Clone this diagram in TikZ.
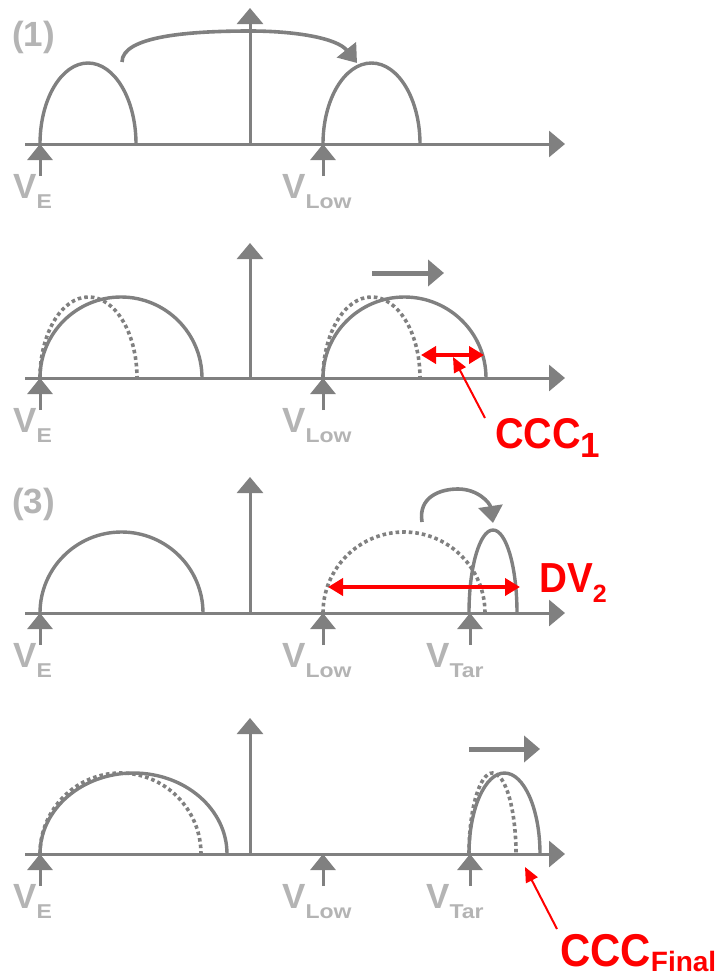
\documentclass[tikz,border=0pt]{standalone}
\usepackage{fontspec}
\usepackage{graphicx}
\setmainfont{Liberation Sans}
\usetikzlibrary{arrows.meta}
\definecolor{lgray}{HTML}{808080}
\definecolor{tgray}{HTML}{B4B4B4}
\definecolor{myred}{HTML}{FF0000}
\newcommand{\vsub}[1]{\raisebox{-10pt}{\fontsize{20}{20}\selectfont\scalebox{1.15}[1]{#1}}}
\tikzset{
  axisline/.style={draw=lgray, line width=3pt, -{Triangle[length=16pt,width=26pt]}},
  curve/.style={draw=lgray, line width=3.4pt},
  dotcurve/.style={draw=lgray, line width=3.6pt, dash pattern=on 3.6pt off 3pt},
  varrow/.style={draw=lgray, line width=3pt, -{Triangle[length=16pt,width=25pt]}},
  movearrow/.style={draw=lgray, line width=5pt, -{Triangle[length=16pt,width=26pt]}},
  bentarrow/.style={draw=lgray, line width=3.6pt, -{Triangle[length=17pt,width=24pt]}},
  redboth/.style={draw=myred, line width=4pt, {Triangle[length=15pt,width=17pt]}-{Triangle[length=15pt,width=17pt]}},
  redpoint/.style={draw=myred, line width=2pt, -{Triangle[length=15pt,width=13pt]}},
  vlabel/.style={inner sep=0pt, anchor=base west, text=tgray, font=\fontsize{35}{35}\selectfont\bfseries},
  redlabel/.style={inner sep=0pt, anchor=base west, text=myred, font=\bfseries},
}
\begin{document}
\begin{tikzpicture}[x=1pt,y=1pt]
\useasboundingbox (0,0) rectangle (723,-975);

% ---------------- Panel 1 ----------------
\coordinate (h1s) at (25,-144); \coordinate (h1e) at (565,-144);
\coordinate (v1s) at (250,-144); \coordinate (v1e) at (250,-8);
\draw[axisline] (h1s) -- (h1e);
\draw[axisline] (v1s) -- (v1e);
\draw[curve] (40,-144) arc[start angle=180,end angle=0,x radius=48pt,y radius=81pt];
\draw[curve] (323,-144) arc[start angle=180,end angle=0,x radius=48.5pt,y radius=81pt];
\coordinate (b1s) at (122,-62); \coordinate (b1e) at (357,-63);
\draw[bentarrow] (b1s) .. controls (122,-36) and (190,-31) .. (250,-31)
  .. controls (295,-31) and (337,-38) .. (b1e);
\coordinate (e1a) at (40,-176); \coordinate (e1b) at (40,-144);
\coordinate (l1a) at (323,-176); \coordinate (l1b) at (323,-144);
\draw[varrow] (e1a) -- (e1b);
\draw[varrow] (l1a) -- (l1b);
\node[vlabel] (p1) at (12,-46) {(1)};
\node[vlabel] (ve1) at (13,-198) {V\vsub{E}};
\node[vlabel] (vl1) at (282,-198) {V\vsub{Low}};

% ---------------- Panel 2 ----------------
\coordinate (h2s) at (25,-378); \coordinate (h2e) at (565,-378);
\coordinate (v2s) at (250,-378); \coordinate (v2e) at (250,-243);
\draw[axisline] (h2s) -- (h2e);
\draw[axisline] (v2s) -- (v2e);
\draw[dotcurve] (40,-378) arc[start angle=180,end angle=0,x radius=48.5pt,y radius=81pt];
\draw[curve] (40,-378) arc[start angle=180,end angle=0,x radius=81pt,y radius=81pt];
\draw[dotcurve] (323,-378) arc[start angle=180,end angle=0,x radius=48.5pt,y radius=81pt];
\draw[curve] (323,-378) arc[start angle=180,end angle=0,x radius=81.5pt,y radius=81pt];
\coordinate (m2s) at (372,-273); \coordinate (m2e) at (444,-273);
\draw[movearrow] (m2s) -- (m2e);
\coordinate (r2s) at (421,-355); \coordinate (r2e) at (484,-355);
\draw[redboth] (r2s) -- (r2e);
\coordinate (q2s) at (485,-418); \coordinate (q2e) at (453,-357);
\draw[redpoint] (q2s) -- (q2e);
\coordinate (e2a) at (40,-410); \coordinate (e2b) at (40,-378);
\coordinate (l2a) at (323,-410); \coordinate (l2b) at (323,-378);
\draw[varrow] (e2a) -- (e2b);
\draw[varrow] (l2a) -- (l2b);
\node[vlabel] (ve2) at (13,-432) {V\vsub{E}};
\node[vlabel] (vl2) at (282,-432) {V\vsub{Low}};
\node[redlabel] (ccc1) at (495,-448) {\fontsize{43}{43}\selectfont\scalebox{0.92}[1]{CCC}\raisebox{-9pt}{\fontsize{35}{35}\selectfont 1}};

% ---------------- Panel 3 ----------------
\coordinate (h3s) at (25,-613); \coordinate (h3e) at (565,-613);
\coordinate (v3s) at (250,-613); \coordinate (v3e) at (250,-477);
\draw[axisline] (h3s) -- (h3e);
\draw[axisline] (v3s) -- (v3e);
\draw[curve] (40,-613) arc[start angle=180,end angle=0,x radius=81.5pt,y radius=81pt];
\draw[dotcurve] (323,-613) arc[start angle=180,end angle=0,x radius=81pt,y radius=81pt];
\draw[curve] (469,-613) arc[start angle=180,end angle=0,x radius=24pt,y radius=83pt];
\coordinate (b3s) at (422,-522); \coordinate (b3e) at (493,-523);
\draw[bentarrow] (b3s) .. controls (418,-497) and (440,-489) .. (458,-489)
  .. controls (478,-489) and (490,-503) .. (b3e);
\coordinate (r3s) at (328,-587); \coordinate (r3e) at (520,-587);
\draw[redboth] (r3s) -- (r3e);
\coordinate (e3a) at (40,-645); \coordinate (e3b) at (40,-613);
\coordinate (l3a) at (323,-645); \coordinate (l3b) at (323,-613);
\coordinate (t3a) at (470,-645); \coordinate (t3b) at (470,-613);
\draw[varrow] (e3a) -- (e3b);
\draw[varrow] (l3a) -- (l3b);
\draw[varrow] (t3a) -- (t3b);
\node[vlabel] (p3) at (12,-513) {(3)};
\node[vlabel] (ve3) at (13,-667) {V\vsub{E}};
\node[vlabel] (vl3) at (282,-667) {V\vsub{Low}};
\node[vlabel] (vt3) at (426,-667) {V\vsub{Tar}};
\node[redlabel] (dv2) at (539,-592) {\fontsize{42}{42}\selectfont\scalebox{0.92}[1]{DV}\raisebox{-10pt}{\fontsize{25}{25}\selectfont 2}};

% ---------------- Panel 4 ----------------
\coordinate (h4s) at (25,-854); \coordinate (h4e) at (565,-854);
\coordinate (v4s) at (250,-854); \coordinate (v4e) at (250,-718);
\draw[axisline] (h4s) -- (h4e);
\draw[axisline] (v4s) -- (v4e);
\draw[dotcurve] (40,-854) arc[start angle=180,end angle=0,x radius=80.5pt,y radius=81pt];
\draw[curve] (40,-854) arc[start angle=180,end angle=0,x radius=93.5pt,y radius=81pt];
\draw[dotcurve] (469,-854) arc[start angle=180,end angle=0,x radius=23.5pt,y radius=81pt];
\draw[curve] (469,-854) arc[start angle=180,end angle=0,x radius=35.5pt,y radius=81pt];
\coordinate (m4s) at (469,-749); \coordinate (m4e) at (540,-749);
\draw[movearrow] (m4s) -- (m4e);
\coordinate (q4s) at (557,-929); \coordinate (q4e) at (525,-867);
\draw[redpoint] (q4s) -- (q4e);
\coordinate (e4a) at (40,-886); \coordinate (e4b) at (40,-854);
\coordinate (l4a) at (323,-886); \coordinate (l4b) at (323,-854);
\coordinate (t4a) at (470,-886); \coordinate (t4b) at (470,-854);
\draw[varrow] (e4a) -- (e4b);
\draw[varrow] (l4a) -- (l4b);
\draw[varrow] (t4a) -- (t4b);
\node[vlabel] (ve4) at (13,-908) {V\vsub{E}};
\node[vlabel] (vl4) at (282,-908) {V\vsub{Low}};
\node[vlabel] (vt4) at (426,-908) {V\vsub{Tar}};
\node[redlabel] (cccf) at (560,-966) {\fontsize{46}{46}\selectfont\scalebox{0.91}[1]{CCC}\raisebox{-5pt}{\fontsize{28}{28}\selectfont Final}};
\end{tikzpicture}
\end{document}
